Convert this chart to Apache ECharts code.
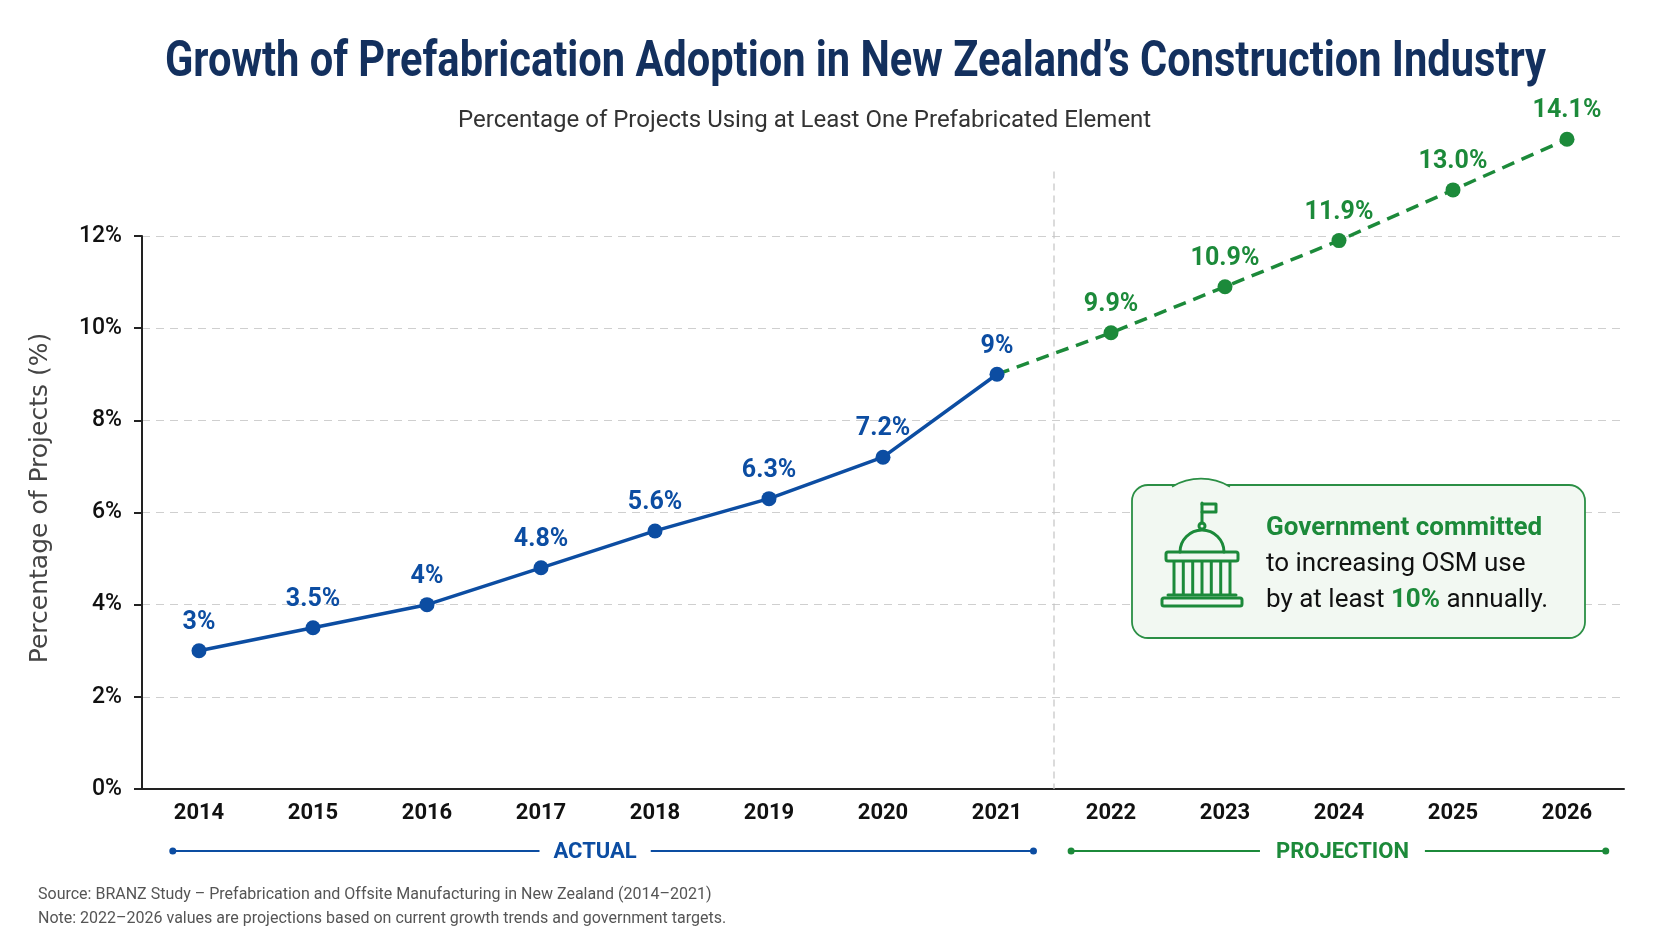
<!DOCTYPE html>
<html>
<head>
<meta charset="utf-8">
<script src="https://cdn.jsdelivr.net/npm/echarts@6/dist/echarts.min.js"></script>
<style>
  html, body { margin: 0; padding: 0; background: #ffffff; }
  #chart { width: 1672px; height: 941px; }
</style>
</head>
<body>
<div id="chart"></div>
<script>
// ---- data ----
const years = ['2014','2015','2016','2017','2018','2019','2020','2021','2022','2023','2024','2025','2026'];
const actualValues = [3, 3.5, 4, 4.8, 5.6, 6.3, 7.2, 9];
const projectedValues = [9.9, 10.9, 11.9, 13.0, 14.1];

const titleText = 'Growth of Prefabrication Adoption in New Zealand\u2019s Construction Industry';
const subtitleText = 'Percentage of Projects Using at Least One Prefabricated Element';
const yAxisTitle = 'Percentage of Projects (%)';
const sourceText = 'Source: BRANZ Study \u2013 Prefabrication and Offsite Manufacturing in New Zealand (2014\u20132021)';
const noteText = 'Note: 2022\u20132026 values are projections based on current growth trends and government targets.';

// ---- colours ----
const BLUE = '#0c4da2';
const GREEN = '#1c8a3a';
const NAVY = '#13305e';

// build series data from the arrays
const actualData = years.map((y, i) => i < actualValues.length ? actualValues[i] : null);
const lastActualIdx = actualValues.length - 1;
const projData = years.map((y, i) => {
  if (i < lastActualIdx) return null;
  if (i === lastActualIdx) return { value: actualValues[lastActualIdx], symbol: 'none', label: { show: false } };
  return projectedValues[i - actualValues.length];
});

// measure the title so it can be drawn condensed to the reference width
const TITLE_FONT = 'bold 50px Roboto';
const measureCtx = document.createElement('canvas').getContext('2d');
measureCtx.font = TITLE_FONT;
const titleNaturalWidth = measureCtx.measureText(titleText).width || 1;
const titleScaleX = 1381 / titleNaturalWidth;

const chart = echarts.init(document.getElementById('chart'), null, { renderer: 'canvas' });

const option = {
  backgroundColor: '#ffffff',
  animation: false,
  title: [
    {
      text: subtitleText,
      left: 453, top: 103,
      textStyle: { fontFamily: 'Roboto', fontWeight: 'normal', fontSize: 24, lineHeight: 26, color: '#333333' }
    }
  ],
  grid: { left: 142, right: 48, top: 236, bottom: 152, containLabel: false },
  xAxis: {
    type: 'category',
    data: years,
    boundaryGap: true,
    axisLine: { show: true, lineStyle: { color: '#222222', width: 2 } },
    axisTick: { show: false },
    axisLabel: { margin: 13, fontFamily: 'Roboto', fontWeight: 'bold', fontSize: 22, color: '#111111' },
    splitLine: { show: false }
  },
  yAxis: {
    type: 'value',
    min: 0, max: 12, interval: 2,
    axisLine: { show: true, lineStyle: { color: '#222222', width: 2 } },
    axisTick: { show: true, length: 8, lineStyle: { color: '#222222', width: 2 } },
    axisLabel: { margin: 20, fontFamily: 'Roboto', fontWeight: 500, fontSize: 23, color: '#111111',
      formatter: v => v + '%' },
    splitLine: { show: true, lineStyle: { color: '#cfcfcf', width: 1.2, type: [8, 6] } }
  },
  series: [
    {
      name: 'Projection',
      type: 'line',
      data: projData,
      clip: false,
      z: 2,
      symbol: 'circle',
      symbolSize: 15,
      lineStyle: { color: GREEN, width: 3.5, type: [13, 8] },
      itemStyle: { color: GREEN },
      label: {
        show: true, position: 'top', distance: 8,
        fontFamily: 'Roboto', fontWeight: 'bold', fontSize: 25, color: GREEN,
        formatter: p => (typeof p.value === 'number' ? p.value.toFixed(1) : p.value) + '%'
      }
    },
    {
      name: 'Actual',
      type: 'line',
      data: actualData,
      clip: false,
      z: 3,
      symbol: 'circle',
      symbolSize: 15,
      lineStyle: { color: BLUE, width: 3.5 },
      itemStyle: { color: BLUE },
      label: {
        show: true, position: 'top', distance: 8,
        fontFamily: 'Roboto', fontWeight: 'bold', fontSize: 25, color: BLUE,
        formatter: p => p.value + '%'
      }
    }
  ]
};

chart.setOption(option);

// ---- decorations positioned from the axes ----
function px(cat, val) { return chart.convertToPixel({ gridIndex: 0 }, [cat, val]); }
const c2014 = px(years[0], 0);
const c2021 = px(years[lastActualIdx], 0);
const c2022 = px(years[lastActualIdx + 1], 0);
const c2026 = px(years[years.length - 1], 0);
const band = c2022[0] - c2021[0];
const dividerX = (c2021[0] + c2022[0]) / 2;
const dividerTop = px(years[0], 13.4)[1];
const axisY = c2014[1];
const rangeY = axisY + 62;

const blueStart = c2014[0] - band * 0.23;
const blueEnd = c2021[0] + band * 0.32;
const greenStart = c2022[0] - band * 0.35;
const greenEnd = c2026[0] + band * 0.34;

const ICON_Z = 13;
const iconStroke = { stroke: GREEN, lineWidth: 3, fill: null, lineCap: 'round', lineJoin: 'round' };
const columnXs = [1174, 1183.3, 1192.7, 1202, 1211.3, 1220.7, 1230];
const iconParts = [
  { type: 'line', shape: { x1: 1202, y1: 523, x2: 1202, y2: 503 } },
  { type: 'polyline', shape: { points: [[1202, 504], [1216, 504], [1216, 512], [1202, 512]] } },
  { type: 'circle', shape: { cx: 1202, cy: 526, r: 3 } },
  { type: 'arc', shape: { cx: 1202, cy: 552, r: 22, startAngle: Math.PI, endAngle: Math.PI * 2, clockwise: true } },
  { type: 'rect', shape: { x: 1166, y: 552, width: 72, height: 9, r: 2 } },
  ...columnXs.map(x => ({ type: 'line', shape: { x1: x, y1: 562, x2: x, y2: 594 } })),
  { type: 'line', shape: { x1: 1168, y1: 595, x2: 1236, y2: 595 } },
  { type: 'rect', shape: { x: 1162, y: 598, width: 80, height: 8, r: 2 } }
].map(p => Object.assign(p, { z: ICON_Z, silent: true, style: Object.assign({}, iconStroke) }));

chart.setOption({
  graphic: [
    // main title (condensed to match the reference)
    { type: 'text', silent: true, x: 165, y: 63, scaleX: titleScaleX, scaleY: 1,
      style: { text: titleText, font: TITLE_FONT, fill: NAVY, textAlign: 'left', textVerticalAlign: 'middle' } },
    // divider between actual and projection
    { type: 'line', z: 1, silent: true,
      shape: { x1: dividerX, y1: dividerTop, x2: dividerX, y2: axisY },
      style: { stroke: '#c4c4c4', lineWidth: 1.2, lineDash: [7, 5] } },
    // y axis title
    { type: 'text', x: 40, y: 498, rotation: Math.PI / 2, silent: true,
      style: { text: yAxisTitle, fontFamily: 'DejaVu Sans', fontSize: 25, fill: '#444444',
        textAlign: 'center', textVerticalAlign: 'middle' } },
    // ACTUAL range
    { type: 'line', silent: true, shape: { x1: blueStart, y1: rangeY, x2: blueEnd, y2: rangeY },
      style: { stroke: BLUE, lineWidth: 2 } },
    { type: 'circle', silent: true, shape: { cx: blueStart, cy: rangeY, r: 3.5 }, style: { fill: BLUE } },
    { type: 'circle', silent: true, shape: { cx: blueEnd, cy: rangeY, r: 3.5 }, style: { fill: BLUE } },
    { type: 'text', silent: true, x: (blueStart + blueEnd) / 2 - 8, y: rangeY + 1,
      style: { text: 'ACTUAL', fontFamily: 'Roboto', fontWeight: 'bold', fontSize: 22, fill: BLUE,
        textAlign: 'center', textVerticalAlign: 'middle', backgroundColor: '#ffffff', padding: [2, 14] } },
    // PROJECTION range
    { type: 'line', silent: true, shape: { x1: greenStart, y1: rangeY, x2: greenEnd, y2: rangeY },
      style: { stroke: GREEN, lineWidth: 2 } },
    { type: 'circle', silent: true, shape: { cx: greenStart, cy: rangeY, r: 3.5 }, style: { fill: GREEN } },
    { type: 'circle', silent: true, shape: { cx: greenEnd, cy: rangeY, r: 3.5 }, style: { fill: GREEN } },
    { type: 'text', silent: true, x: (greenStart + greenEnd) / 2 + 4, y: rangeY + 1,
      style: { text: 'PROJECTION', fontFamily: 'Roboto', fontWeight: 'bold', fontSize: 22, fill: GREEN,
        textAlign: 'center', textVerticalAlign: 'middle', backgroundColor: '#ffffff', padding: [2, 16] } },
    // annotation box
    { type: 'rect', silent: true, z: 10,
      shape: { x: 1132, y: 485, width: 453, height: 153, r: 16 },
      style: { fill: '#f2f8f2', stroke: '#2b8f45', lineWidth: 1.8 } },
    { type: 'bezierCurve', silent: true, z: 11,
      shape: { x1: 1172, y1: 486.6, cpx1: 1190, cpy1: 476, cpx2: 1212, cpy2: 476, x2: 1230, y2: 486.6 },
      style: { fill: '#f2f8f2', stroke: '#2b8f45', lineWidth: 1.8 } },
    // capitol icon
    ...iconParts,
    // annotation text
    { type: 'text', silent: true, z: 12, x: 1266, y: 510,
      style: {
        text: '{b|Government committed}\n{n|to increasing OSM use}\n{n|by at least }{g|10%}{n| annually.}',
        textVerticalAlign: 'top', textAlign: 'left',
        rich: {
          b: { fontFamily: 'Roboto', fontWeight: 'bold', fontSize: 26, lineHeight: 36, fill: GREEN },
          n: { fontFamily: 'Roboto', fontWeight: 'normal', fontSize: 26, lineHeight: 36, fill: '#111111' },
          g: { fontFamily: 'Roboto', fontWeight: 'bold', fontSize: 26, lineHeight: 36, fill: GREEN }
        }
      } },
    // footnotes
    { type: 'text', silent: true, x: 38, y: 895,
      style: { text: sourceText, fontFamily: 'Roboto', fontSize: 16, fill: '#555555', textVerticalAlign: 'middle' } },
    { type: 'text', silent: true, x: 38, y: 919,
      style: { text: noteText, fontFamily: 'Roboto', fontSize: 16, fill: '#555555', textVerticalAlign: 'middle' } }
  ]
});
</script>
</body>
</html>
